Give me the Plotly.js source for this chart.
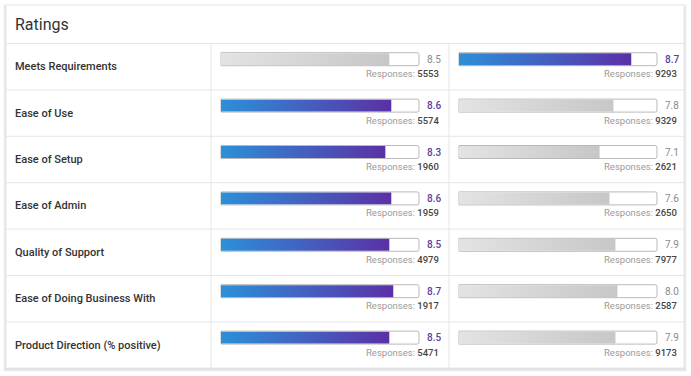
<!DOCTYPE html>
<html>
<head>
<meta charset="utf-8">
<script src="https://cdn.plot.ly/plotly-3.0.1.min.js"></script>
<style>html,body{margin:0;padding:0;background:#fff;}#chart{width:691px;height:376px;}</style>
</head>
<body>
<div id="chart"></div>
<script>
// ---- data ----
const title = "Ratings";
const categories = ["Meets Requirements", "Ease of Use", "Ease of Setup", "Ease of Admin",
  "Quality of Support", "Ease of Doing Business With", "Product Direction (% positive)"];
const scoresA = [8.5, 8.6, 8.3, 8.6, 8.5, 8.7, 8.5];
const responsesA = [5553, 5574, 1960, 1959, 4979, 1917, 5471];
const scoresB = [8.7, 7.8, 7.1, 7.6, 7.9, 8.0, 7.9];
const responsesB = [9293, 9329, 2621, 2650, 7977, 2587, 9173];
const scaleMax = 10;

// ---- geometry / style ----
const W = 691, H = 376;
const rowPx = 46.4, row0Px = 59.2;          // bar centre of first row
const pxPerUnit = 19.8;
const col1X0 = 221, col2X0 = 459;
const halfBar = 0.14, halfFill = 0.128;
const blueScale = [[0, '#2c90d8'], [1, '#5b30a7']];
const grayScale = [[0, '#e3e3e3'], [1, '#c7c7c7']];
const lineCol = '#e6e6e6';
const FONT = 'Roboto, "Open Sans", sans-serif';

const yRange = [(H - row0Px) / rowPx, -row0Px / rowPx];
const x1Range = [-col1X0 / pxPerUnit, (W - col1X0) / pxPerUnit];
const x2Range = [-col2X0 / pxPerUnit, (W - col2X0) / pxPerUnit];

const rows = categories.map((_, i) => i);
const traces = [];
// outline bars (white with grey border)
[['x', 'y'], ['x2', 'y']].forEach(([xa, ya]) => {
  traces.push({
    type: 'bar', orientation: 'h', x: rows.map(() => scaleMax), y: rows,
    width: halfBar * 2, xaxis: xa, yaxis: ya, hoverinfo: 'skip',
    marker: {color: '#ffffff', line: {color: '#b9b9b9', width: 1}, cornerradius: 2}
  });
});
// filled gradient bars
function addFill(val, i, xa, highlight) {
  traces.push({
    type: 'scatter', mode: 'lines', xaxis: xa, yaxis: 'y', hoverinfo: 'skip',
    x: [0, val, val, 0, 0],
    y: [i - halfFill, i - halfFill, i + halfFill, i + halfFill, i - halfFill],
    fill: 'toself', line: {width: 0, color: 'rgba(0,0,0,0)'},
    fillgradient: {type: 'horizontal', colorscale: highlight ? blueScale : grayScale}
  });
}
const annotations = [];
categories.forEach((c, i) => {
  const aHi = scoresA[i] >= scoresB[i];
  const bHi = !aHi;
  addFill(scoresA[i], i, 'x', aHi);
  addFill(scoresB[i], i, 'x2', bHi);
  // row label
  annotations.push({xref: 'paper', yref: 'y', x: 13 / W, y: i, yshift: -7.5, xanchor: 'left',
    yanchor: 'middle', showarrow: false, text: c,
    font: {family: FONT, size: 11, color: '#333333', weight: 500}});
  [[scoresA[i], responsesA[i], 'x', aHi], [scoresB[i], responsesB[i], 'x2', bHi]].forEach(([s, r, xa, hi]) => {
    annotations.push({xref: xa, yref: 'y', x: scaleMax, xshift: 6, y: i, xanchor: 'left', yanchor: 'middle',
      showarrow: false, text: s.toFixed(1),
      font: {family: FONT, size: 10, color: hi ? '#5a3f9f' : '#8a8a8a', weight: hi ? 500 : 400}});
    annotations.push({xref: xa, yref: 'y', x: scaleMax, xshift: 22, y: i, yshift: -14.5, xanchor: 'right',
      yanchor: 'middle', showarrow: false,
      text: 'Responses: <span style="color:#444444;font-weight:500">' + r + '</span>',
      font: {family: FONT, size: 9.5, color: '#9a9a9a'}});
  });
});
// title
annotations.push({xref: 'paper', yref: 'paper', x: 13 / W, y: 1 - 25 / H, xanchor: 'left', yanchor: 'middle',
  showarrow: false, text: title, font: {family: FONT, size: 16, color: '#333333'}});

// table shapes
const shapes = [];
// shadow
[[3, 'rgba(0,0,0,0.03)'], [2, 'rgba(0,0,0,0.04)'], [1, 'rgba(0,0,0,0.05)']].forEach(([d, c]) => {
  shapes.push({type: 'rect', xref: 'paper', yref: 'paper', layer: 'below',
    x0: (6 - d) / W, x1: (684 + d) / W, y0: 1 - (368 + d + 1) / H, y1: 1 - (5 - d + 2) / H,
    fillcolor: c, line: {width: 0}});
});
shapes.push({type: 'rect', xref: 'paper', yref: 'paper', layer: 'below',
  x0: 6 / W, x1: 684 / W, y0: 1 - 368 / H, y1: 1 - 5 / H, fillcolor: '#ffffff', line: {color: '#e8e8e8', width: 1}});
for (let k = -1; k < categories.length - 1; k++) {
  shapes.push({type: 'line', xref: 'paper', yref: 'y', layer: 'below', x0: 6 / W, x1: 684 / W,
    y0: k + 0.5 + 7.5 / rowPx, y1: k + 0.5 + 7.5 / rowPx, line: {color: lineCol, width: 1}});
}
[211, 449].forEach(px => {
  shapes.push({type: 'line', xref: 'paper', yref: 'paper', layer: 'below', x0: px / W, x1: px / W,
    y0: 1 - 368 / H, y1: 1 - 43 / H, line: {color: lineCol, width: 1}});
});

const axisCommon = {showgrid: false, zeroline: false, showticklabels: false, ticks: '', fixedrange: true};
const layout = {
  width: W, height: H, margin: {l: 0, r: 0, t: 0, b: 0},
  paper_bgcolor: '#ffffff', plot_bgcolor: 'rgba(0,0,0,0)', showlegend: false, barmode: 'overlay',
  xaxis: Object.assign({range: x1Range, domain: [0, 1]}, axisCommon),
  xaxis2: Object.assign({range: x2Range, domain: [0, 1], overlaying: 'x', anchor: 'y'}, axisCommon),
  yaxis: Object.assign({range: yRange, domain: [0, 1]}, axisCommon),
  annotations: annotations, shapes: shapes
};
Plotly.newPlot('chart', traces, layout, {displayModeBar: false, staticPlot: true});
</script>
</body>
</html>
